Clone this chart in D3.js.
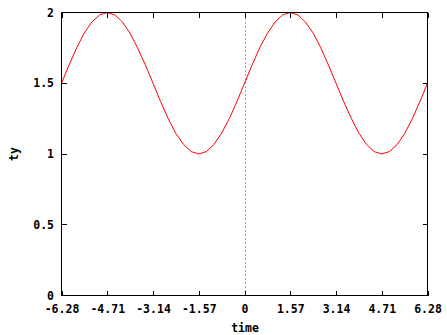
<!DOCTYPE html>
<html>
<head>
<meta charset="utf-8">
<script src="https://cdn.jsdelivr.net/npm/d3@7"></script>
<style>
  body { margin: 0; background: #fff; }
  text { font-family: 'DejaVu Sans Mono', monospace; font-weight: bold; font-size: 11.5px; fill: #000; }
</style>
</head>
<body>
<script>
'use strict'

const width = 447
const height = 335

// samples of ty
const time = [-6.28, -6.02, -5.76, -5.50, -5.24, -4.97, -4.71, -4.45, -4.19, -3.93,
  -3.67, -3.40, -3.14, -2.88, -2.62, -2.36, -2.09, -1.83, -1.57, -1.31, -1.05, -0.79,
  -0.52, -0.26, 0, 0.26, 0.52, 0.79, 1.05, 1.31, 1.57, 1.83, 2.09, 2.36, 2.62, 2.88,
  3.14, 3.40, 3.67, 3.93, 4.19, 4.45, 4.71, 4.97, 5.24, 5.50, 5.76, 6.02, 6.28]
const ty = [1.5, 1.629, 1.75, 1.854, 1.933, 1.983, 2, 1.983, 1.933, 1.854, 1.75, 1.629,
  1.5, 1.371, 1.25, 1.146, 1.067, 1.017, 1, 1.017, 1.067, 1.146, 1.25, 1.371,
  1.5, 1.629, 1.75, 1.854, 1.933, 1.983, 2, 1.983, 1.933, 1.854, 1.75, 1.629,
  1.5, 1.371, 1.25, 1.146, 1.067, 1.017, 1, 1.017, 1.067, 1.146, 1.25, 1.371, 1.5]

const xTicks = [-6.28, -4.71, -3.14, -1.57, 0, 1.57, 3.14, 4.71, 6.28]
const yTicks = [0, 0.5, 1, 1.5, 2]

const x = d3.scaleLinear().domain([-6.28, 6.28]).range([61.5, 427.5])
const y = d3.scaleLinear().domain([0, 2]).range([295.5, 12.5])

const svg = d3.select('body').append('svg')
  .attr('width', width)
  .attr('height', height)

// zero axis
svg.append('line')
  .attr('x1', Math.round(x(0)) + 0.5).attr('x2', Math.round(x(0)) + 0.5)
  .attr('y1', y(0)).attr('y2', y(2))
  .attr('stroke', '#a0a0a0')
  .attr('stroke-dasharray', '2,2')
  .attr('shape-rendering', 'crispEdges')

const tickLen = 5
const ticks = svg.append('g')
  .attr('stroke', '#000')
  .attr('shape-rendering', 'crispEdges')

xTicks.forEach(function (t) {
  const px = Math.round(x(t)) + 0.5
  ticks.append('line').attr('x1', px).attr('x2', px).attr('y1', y(0)).attr('y2', y(0) - tickLen)
  ticks.append('line').attr('x1', px).attr('x2', px).attr('y1', y(2)).attr('y2', y(2) + tickLen)
})
yTicks.forEach(function (t) {
  const py = Math.round(y(t) - 0.5) + 0.5
  ticks.append('line').attr('x1', x(-6.28)).attr('x2', x(-6.28) + tickLen).attr('y1', py).attr('y2', py)
  ticks.append('line').attr('x1', x(6.28)).attr('x2', x(6.28) - tickLen).attr('y1', py).attr('y2', py)
})

svg.selectAll('text.xt')
  .data(xTicks)
  .enter()
  .append('text')
  .attr('class', 'xt')
  .attr('x', d => x(d) + 0.5)
  .attr('y', 313)
  .attr('text-anchor', 'middle')
  .text(d => d3.format('.2f')(d).replace('0.00', '0').replace('−', '-'))

svg.selectAll('text.yt')
  .data(yTicks)
  .enter()
  .append('text')
  .attr('class', 'yt')
  .attr('x', 54)
  .attr('y', d => y(d) + 4)
  .attr('text-anchor', 'end')
  .text(d => String(d))

svg.append('text')
  .attr('x', x(0) + 0.5)
  .attr('y', 332)
  .attr('text-anchor', 'middle')
  .text('time')

svg.append('text')
  .attr('transform', 'translate(18,154) rotate(-90)')
  .attr('text-anchor', 'middle')
  .text('ty')

const line = d3.line()
  .x((d, i) => x(time[i]))
  .y(d => y(d))

svg.append('path')
  .datum(ty)
  .attr('d', line)
  .attr('fill', 'none')
  .attr('stroke', '#ff0000')
  .attr('stroke-width', 1)

// frame
svg.append('rect')
  .attr('x', x(-6.28)).attr('y', y(2))
  .attr('width', x(6.28) - x(-6.28))
  .attr('height', y(0) - y(2))
  .attr('fill', 'none')
  .attr('stroke', '#000')
  .attr('shape-rendering', 'crispEdges')
</script>
</body>
</html>
